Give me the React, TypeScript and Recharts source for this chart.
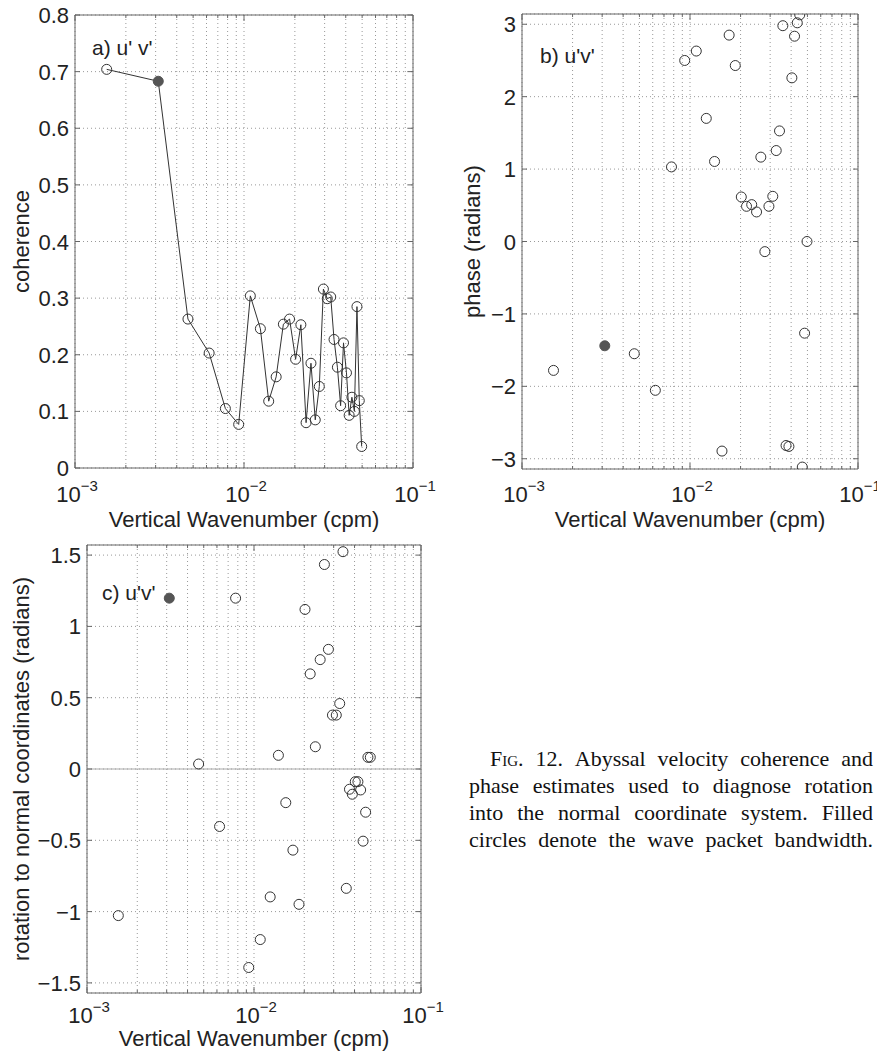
import React from 'react';
import {
  ScatterChart, Scatter, XAxis, YAxis, CartesianGrid, ReferenceArea, ReferenceLine, Label
} from 'recharts';

// vertical wavenumber (cpm) of each estimate
const wavenumber = [
  0.00154, 0.00311, 0.00466, 0.00622, 0.00776, 0.0093, 0.0109, 0.0125,
  0.014, 0.0155, 0.0171, 0.0186, 0.0202, 0.0217, 0.0233, 0.0249,
  0.0264, 0.0279, 0.0295, 0.0311, 0.0326, 0.0341, 0.0357, 0.0373,
  0.0388, 0.0404, 0.0419, 0.0435, 0.045, 0.0466, 0.0481, 0.0497,
];

const coherence = [
  0.704, 0.683, 0.263, 0.203, 0.105, 0.077, 0.304, 0.246,
  0.118, 0.161, 0.254, 0.263, 0.192, 0.253, 0.08, 0.185,
  0.085, 0.144, 0.316, 0.299, 0.302, 0.227, 0.178, 0.11,
  0.221, 0.168, 0.093, 0.125, 0.1, 0.285, 0.119, 0.038,
];

const phase = [
  -1.78, -1.44, -1.55, -2.055, 1.03, 2.5, 2.63, 1.7,
  1.105, -2.894, 2.85, 2.43, 0.615, 0.486, 0.509, 0.408,
  1.165, -0.14, 0.486, 0.624, 1.256, 1.527, 2.98, -2.817,
  -2.83, 2.26, 2.835, 3.02, 3.13, -3.115, -1.266, 0.0,
];

const rotation = [
  -1.028, 1.198, 0.035, -0.403, 1.198, -1.392, -1.196, -0.897,
  0.096, -0.236, -0.569, -0.949, 1.119, 0.667, 0.156, 0.767,
  1.434, 0.839, 0.378, 0.378, 0.459, 1.524, -0.837, -0.142,
  -0.177, -0.089, -0.089, -0.147, -0.506, -0.303, 0.082, 0.082,
];

// index of the wave packet bandwidth estimate (filled circle)
const bandwidthIndex = 1;

const xTicks = [
  0.001, 0.002, 0.003, 0.004, 0.005, 0.006, 0.007, 0.008, 0.009,
  0.01, 0.02, 0.03, 0.04, 0.05, 0.06, 0.07, 0.08, 0.09, 0.1,
];
const xDecades = [0.001, 0.01, 0.1];
const xExponents = ['−3', '−2', '−1'];

const coherenceTicks = [0, 0.1, 0.2, 0.3, 0.4, 0.5, 0.6, 0.7, 0.8];
const phaseTicks = [-3, -2, -1, 0, 1, 2, 3];
const rotationTicks = [-1.5, -1, -0.5, 0, 0.5, 1, 1.5];

const captionLines = [
  'Abyssal velocity coherence and',
  'phase estimates used to diagnose rotation',
  'into the normal coordinate system. Filled',
  'circles denote the wave packet bandwidth.',
];

const FONT = '"Liberation Sans", Arial, Helvetica, sans-serif';
const INK = '#222';
const FRAME = '#666';

const XTick = (props: any) => {
  const { x, y, payload, labelDy, plotH } = props;
  const i = xDecades.findIndex((d) => Math.abs(d - payload.value) < 1e-9);
  const len = i >= 0 ? 6 : 3;
  return (
    <g>
      <line x1={x} x2={x} y1={y} y2={y - len} stroke={FRAME} />
      <line x1={x} x2={x} y1={y - plotH} y2={y - plotH + len} stroke={FRAME} />
      {i >= 0 && (
        <text x={x + 2} y={y + labelDy} textAnchor="middle" fontFamily={FONT} fontSize={22} fill={INK}>
          <tspan>10</tspan>
          <tspan dy={-11} fontSize={15}>{xExponents[i]}</tspan>
        </text>
      )}
    </g>
  );
};

const YTick = (props: any) => {
  const { x, y, payload, plotW } = props;
  const label = String(payload.value).replace('-', '−');
  return (
    <g>
      <line x1={x} x2={x + 5} y1={y} y2={y} stroke={FRAME} />
      <line x1={x + plotW} x2={x + plotW - 5} y1={y} y2={y} stroke={FRAME} />
      <text x={x - 6} y={y + 8} textAnchor="end" fontFamily={FONT} fontSize={22} fill={INK}>
        {label}
      </text>
    </g>
  );
};

const Marker = (props: any) => {
  const { cx, cy, payload } = props;
  if (cx == null || cy == null) return null;
  const filled = payload.filled;
  return (
    <circle cx={cx} cy={cy} r={5} fill={filled ? '#555' : 'none'}
      stroke={filled ? '#555' : '#333'} strokeWidth={1} />
  );
};

interface PanelProps {
  values: number[];
  yDomain: [number, number];
  yTicks: number[];
  title: string;
  yLabel: string;
  left: number;
  top: number;
  width: number;
  height: number;
  marginTop: number;
  marginRight: number;
  yAxisWidth: number;
  xAxisHeight: number;
  tickDy: number;
  xLabelDy: number;
  yLabelX: number;
  titleX: number;
  titleY: number;
  connect?: boolean;
  zeroLine?: boolean;
}

function Panel(p: PanelProps) {
  const plotW = p.width - p.yAxisWidth - p.marginRight;
  const plotH = p.height - p.marginTop - p.xAxisHeight;
  const plotBottom = p.marginTop + plotH;
  const cx = p.yAxisWidth + plotW / 2;
  const cy = p.marginTop + plotH / 2;
  const data = wavenumber.map((k, i) => ({ k, v: p.values[i], filled: i === bandwidthIndex }));

  return (
    <div style={{ position: 'absolute', left: p.left, top: p.top }}>
      <ScatterChart width={p.width} height={p.height}
        margin={{ top: p.marginTop, right: p.marginRight, bottom: 0, left: 0 }}>
        <CartesianGrid stroke="#999" strokeDasharray="1 3" />
        {p.zeroLine && <ReferenceLine y={0} stroke="#aaa" strokeWidth={1.2} />}
        <XAxis type="number" dataKey="k" scale="log" domain={[0.001, 0.1]} allowDataOverflow
          ticks={xTicks} interval={0} height={p.xAxisHeight} tickSize={0} tickMargin={0}
          tickLine={false} axisLine={false}
          tick={(t: any) => <XTick {...t} labelDy={p.tickDy} plotH={plotH} />}>
          <Label content={() => (
            <text x={cx} y={plotBottom + p.xLabelDy} textAnchor="middle"
              fontFamily={FONT} fontSize={22} fill={INK}>Vertical Wavenumber (cpm)</text>
          )} />
        </XAxis>
        <YAxis type="number" dataKey="v" domain={p.yDomain} allowDataOverflow
          ticks={p.yTicks} interval={0} width={p.yAxisWidth} tickSize={0} tickMargin={0}
          tickLine={false} axisLine={false}
          tick={(t: any) => <YTick {...t} plotW={plotW} />}>
          <Label content={() => (
            <text x={p.yLabelX} y={cy} textAnchor="middle" transform={`rotate(-90, ${p.yLabelX}, ${cy})`}
              fontFamily={FONT} fontSize={22} fill={INK}>{p.yLabel}</text>
          )} />
          <Label content={() => (
            <text x={p.titleX} y={p.titleY} fontFamily={FONT} fontSize={21} fill={INK}>{p.title}</text>
          )} />
        </YAxis>
        <ReferenceArea x1={0.001} x2={0.1} y1={p.yDomain[0]} y2={p.yDomain[1]}
          fill="none" fillOpacity={0} stroke={FRAME} strokeWidth={1} ifOverflow="visible" />
        <Scatter data={data} isAnimationActive={false} shape={Marker}
          line={p.connect ? { stroke: '#333', strokeWidth: 1 } : false} lineJointType="linear" />
      </ScatterChart>
    </div>
  );
}

export default function App() {
  return (
    <div style={{ position: 'absolute', left: 0, top: 0, width: 877, height: 1054, background: '#fff', overflow: 'hidden' }}>
      <Panel values={coherence} yDomain={[0, 0.8]} yTicks={coherenceTicks}
        title="a) u' v'" yLabel="coherence"
        left={0} top={0} width={440} height={540} marginTop={15} marginRight={27}
        yAxisWidth={75} xAxisHeight={72} tickDy={34} xLabelDy={59} yLabelX={29}
        titleX={92} titleY={55} connect />
      <Panel values={phase} yDomain={[-Math.PI, Math.PI]} yTicks={phaseTicks}
        title="b) u'v'" yLabel="phase (radians)"
        left={440} top={0} width={437} height={540} marginTop={14} marginRight={19}
        yAxisWidth={82} xAxisHeight={71} tickDy={33} xLabelDy={58} yLabelX={40}
        titleX={100} titleY={63} />
      <Panel values={rotation} yDomain={[-Math.PI / 2, Math.PI / 2]} yTicks={rotationTicks}
        title="c) u'v'" yLabel="rotation to normal coordinates (radians)"
        left={0} top={535} width={460} height={519} marginTop={10} marginRight={39}
        yAxisWidth={87} xAxisHeight={61} tickDy={30} xLabelDy={53} yLabelX={29}
        titleX={102} titleY={65} zeroLine />
      <div style={{
        position: 'absolute', left: 469, top: 745, width: 404,
        fontFamily: '"Liberation Serif", "Times New Roman", serif', fontSize: 22, lineHeight: '27px', color: '#111',
      }}>
        {captionLines.map((line, i) => (
          <div key={i} style={{
            textAlign: 'justify', textAlignLast: 'justify', whiteSpace: 'nowrap',
            paddingLeft: i === 0 ? 21 : 0, height: 27,
          }}>
            {i === 0 && <span style={{ fontVariant: 'small-caps' }}>Fig. 12. </span>}
            {line}
          </div>
        ))}
      </div>
    </div>
  );
}
